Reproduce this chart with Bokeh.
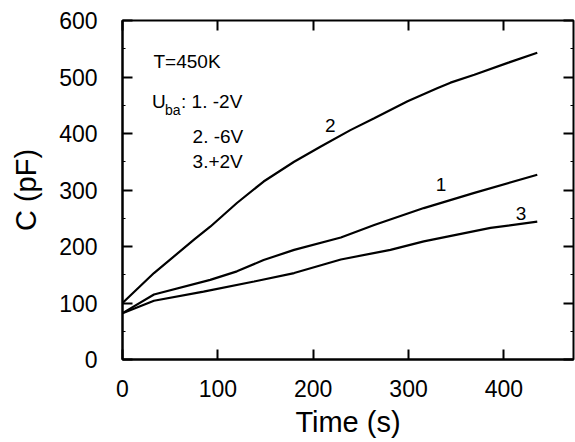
from bokeh.plotting import figure
from bokeh.models import LinearAxis, SingleIntervalTicker, Range1d, CustomJSTickFormatter
from bokeh.core.properties import value
from bokeh.embed import file_html
from bokeh.resources import INLINE

# Curve 1: U = -2 V
t1 = [0, 33, 92, 120, 148, 180, 229, 264, 316, 369, 435]
c1 = [82, 115, 141, 156, 176, 194, 216, 238, 268, 295, 327]
# Curve 2: U = -6 V
t2 = [0, 33, 75, 92, 120, 148, 180, 208, 239, 264, 299, 330, 344, 369, 404, 435]
c2 = [100, 153, 212, 235, 277, 315, 350, 377, 406, 427, 457, 480, 490, 504, 525, 543]
# Curve 3: U = +2 V
t3 = [0, 33, 85, 138, 180, 229, 281, 316, 351, 386, 435]
c3 = [82, 104, 120, 138, 153, 177, 194, 209, 221, 233, 244]

curve_labels = ["1", "2", "3"]
label_t = [334, 218, 418]
label_c = [310, 415, 259]

x_ticks_interval = 100
y_ticks_interval = 100

FONT = "Liberation Sans"

p = figure(width=575, height=442, output_backend="svg", toolbar_location=None,
           x_range=Range1d(0, 473), y_range=Range1d(0, 600),
           min_border_left=122, min_border_top=20, min_border_right=2,
           min_border_bottom=83, background_fill_color="white",
           border_fill_color="white")
p.grid.visible = False
p.outline_line_color = "black"
p.outline_line_width = 2

xt = SingleIntervalTicker(interval=x_ticks_interval, num_minor_ticks=0)
yt = SingleIntervalTicker(interval=y_ticks_interval, num_minor_ticks=2)

for ax, tk in ((p.xaxis[0], xt), (p.yaxis[0], yt)):
    ax.ticker = tk
    ax.axis_line_width = 2
    ax.major_tick_in = 10
    ax.major_tick_out = 0
    ax.major_tick_line_width = 2
    ax.minor_tick_in = 3
    ax.minor_tick_out = 0
    ax.minor_tick_line_width = 1
    ax.major_label_text_font = FONT
    ax.major_label_text_font_size = "23px"
    ax.major_label_text_color = "black"
    ax.axis_label_text_font = FONT
    ax.axis_label_text_font_style = "normal"
    ax.axis_label_text_font_size = "29px"
    ax.axis_label_text_color = "black"

p.xaxis[0].axis_label = "Time (s)"
p.xaxis[0].major_label_standoff = 20
p.xaxis[0].axis_label_standoff = 6
p.yaxis[0].axis_label = "C (pF)"
p.yaxis[0].major_label_standoff = 25
p.yaxis[0].axis_label_standoff = 14

blank = CustomJSTickFormatter(code="return '';")
top = LinearAxis(ticker=SingleIntervalTicker(interval=x_ticks_interval, num_minor_ticks=0),
                 formatter=blank)
right = LinearAxis(ticker=SingleIntervalTicker(interval=y_ticks_interval, num_minor_ticks=2),
                   formatter=blank)
for ax in (top, right):
    ax.axis_line_color = None
    ax.major_tick_in = 10
    ax.major_tick_out = 0
    ax.major_tick_line_width = 2
    ax.minor_tick_in = 3
    ax.minor_tick_out = 0
    ax.major_label_standoff = 0
p.add_layout(top, "above")
p.add_layout(right, "right")

for tt, cc in ((t1, c1), (t2, c2), (t3, c3)):
    p.line(tt, cc, line_color="black", line_width=2.2)

p.text(label_t, label_c, text=curve_labels, text_font=value(FONT),
       text_font_size="19px", text_align="center", text_baseline="middle",
       text_color="black")

p.text([32.5], [527], text=["T=450K"], text_font=value(FONT), text_font_size="19px",
       text_align="left", text_baseline="middle", text_color="black")
p.text([31], [457], text=["U"], text_font=value(FONT), text_font_size="19px",
       text_align="left", text_baseline="middle", text_color="black")
p.text([31], [457], text=["ba"], text_font=value(FONT), text_font_size="14px",
       text_align="left", text_baseline="middle", text_color="black",
       x_offset=13, y_offset=9)
p.text([31], [457], text=[": 1. -2V"], text_font=value(FONT), text_font_size="19px",
       text_align="left", text_baseline="middle", text_color="black",
       x_offset=29)
p.text([73.5, 73.5], [395, 350], text=["2. -6V", "3.+2V"], text_font=value(FONT),
       text_font_size="19px", text_align="left", text_baseline="middle",
       text_color="black")

open("out.html", "w").write(file_html(p, INLINE))
